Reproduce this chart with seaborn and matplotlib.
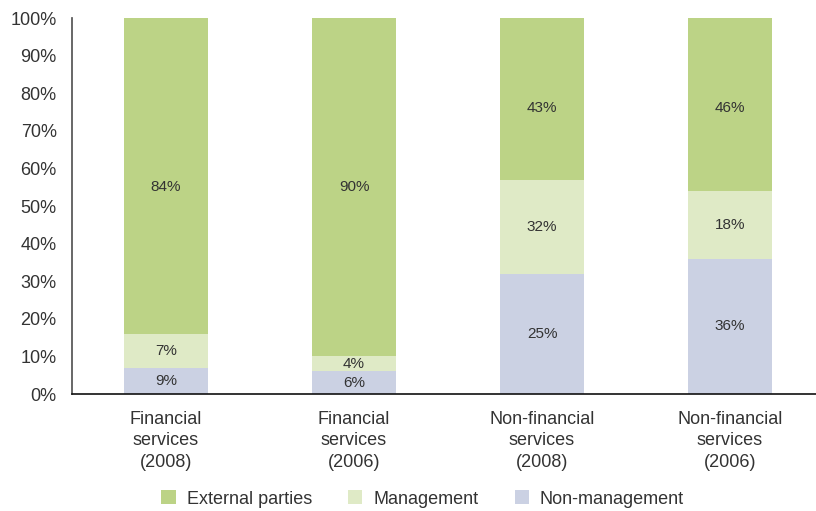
import pandas as pd
import matplotlib.pyplot as plt
import seaborn as sns
from matplotlib.patches import Patch

categories = ["Financial\nservices\n(2008)", "Financial\nservices\n(2006)",
              "Non-financial\nservices\n(2008)", "Non-financial\nservices\n(2006)"]
# segment heights as drawn in the chart
non_management = [7, 6, 32, 36]
management = [9, 4, 25, 18]
external = [84, 90, 43, 46]
# labels as printed in the chart
non_management_labels = ["9%", "6%", "25%", "36%"]
management_labels = ["7%", "4%", "32%", "18%"]
external_labels = ["84%", "90%", "43%", "46%"]

series = ["External parties", "Management", "Non-management"]
colors = {"External parties": "#bcd386", "Management": "#dfeac6", "Non-management": "#cbd1e3"}

df = pd.DataFrame({"category": categories, "Non-management": non_management,
                   "Management": management, "External parties": external})
labels = {"Non-management": non_management_labels, "Management": management_labels,
          "External parties": external_labels}

sns.set_theme(style="white")
plt.rcParams["font.family"] = ["Liberation Sans", "DejaVu Sans"]
text_color = "#333333"

fig = plt.figure(figsize=(8.16, 5.11), dpi=100)
ax = fig.add_axes([72 / 816, 117 / 511, 1 - 72 / 816, (394 - 18) / 511])

# top labels sit at a shared height per pair of bars
ext_label_y = [55, 55, 76, 76]

bottom = [0] * len(categories)
for name in ["Non-management", "Management", "External parties"]:
    vals = df[name].tolist()
    sns.barplot(x=df["category"], y=vals, bottom=bottom, color=colors[name],
                width=0.45, ax=ax, saturation=1, linewidth=0)
    for i, v in enumerate(vals):
        y = bottom[i] + v / 2
        if name == "External parties":
            y = ext_label_y[i]
        ax.text(i, y, labels[name][i], ha="center", va="center",
                fontsize=11, color=text_color)
    bottom = [b + v for b, v in zip(bottom, vals)]

ax.set_ylim(0, 100)
ax.set_xlim(-0.5, (816 - 72) / 188 - 0.5)
ax.set_yticks(range(0, 101, 10))
ax.set_yticklabels([f"{t}%" for t in range(0, 101, 10)], fontsize=13, color=text_color)
ax.set_xticks(range(len(categories)))
ax.set_xticklabels(categories, fontsize=13, color=text_color, linespacing=1.35)
ax.set_xlabel("")
ax.set_ylabel("")
ax.tick_params(axis="y", length=0, pad=11)
ax.tick_params(axis="x", length=0, pad=12)
sns.despine(ax=ax, top=True, right=True)
ax.spines["left"].set_color("#555555")
ax.spines["bottom"].set_color("#111111")
ax.spines["bottom"].set_linewidth(1.2)

handles = [Patch(facecolor=colors[s], edgecolor="none", label=s) for s in series]
fig.legend(handles=handles, loc="lower center", bbox_to_anchor=(0.518, -0.025), ncol=3,
           frameon=False, fontsize=13, handlelength=0.8, handleheight=0.8,
           columnspacing=2.0, handletextpad=0.6, labelcolor=text_color)

fig.savefig("out.png", dpi=100)
